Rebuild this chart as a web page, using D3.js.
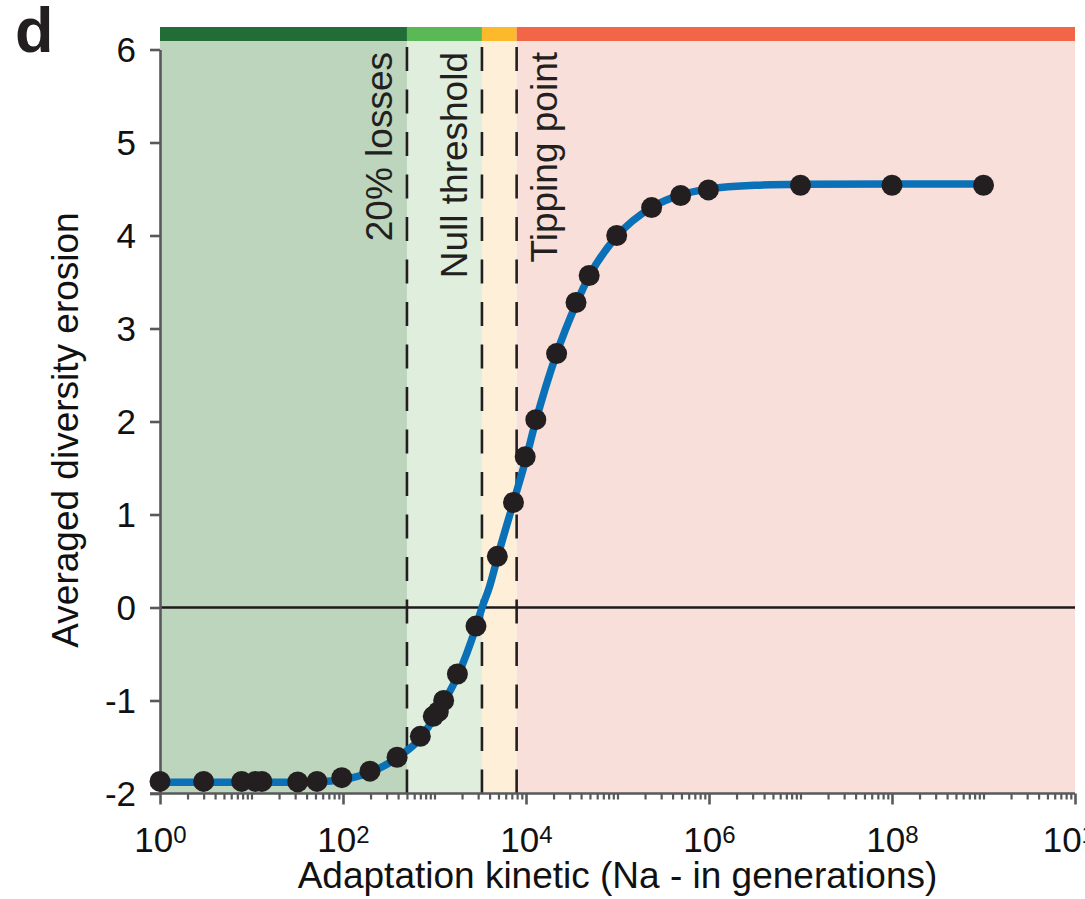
<!DOCTYPE html>
<html>
<head>
<meta charset="utf-8">
<script src="https://cdn.jsdelivr.net/npm/d3@7"></script>
<style>
  html, body { margin: 0; padding: 0; background: #ffffff; }
  svg { display: block; font-family: "Liberation Sans", Arial, Helvetica, sans-serif; }
</style>
</head>
<body>
<svg id="chart" width="1085" height="899"></svg>
<script>
// Simulated points: adaptation kinetic (Na, generations) vs averaged diversity erosion
const naValues = [1, 3, 7.8, 11, 13, 32, 52, 97, 197, 390, 700, 970, 1100, 1260, 1780,
  2840, 4860, 7300, 9800, 12800, 21600, 35200, 49000, 98000, 236000, 490000, 985000,
  1e7, 1e8, 1e9];
const erosionValues = [-1.87, -1.87, -1.87, -1.87, -1.87, -1.875, -1.87, -1.83, -1.76, -1.61,
  -1.385, -1.17, -1.12, -1.0, -0.715, -0.2, 0.55, 1.13, 1.62, 2.02, 2.73, 3.28, 3.57,
  4.0, 4.3, 4.43, 4.49, 4.54, 4.54, 4.54];

// Fitted sigmoid, sampled along Na
const fitNa = [1, 10, 31.6, 63, 100, 200, 400, 708, 1000, 1260, 1780, 2820, 3310, 3980,
  5010, 7240, 10000, 12600, 21400, 35500, 50100, 100000, 234000, 500000, 1000000,
  3160000, 1e7, 1e8, 1e9];
const fitErosion = [-1.88, -1.88, -1.88, -1.87, -1.85, -1.77, -1.61, -1.40, -1.18, -1.02,
  -0.74, -0.22, 0.0, 0.22, 0.58, 1.12, 1.6, 1.98, 2.72, 3.27, 3.58, 4.0, 4.3, 4.44, 4.5,
  4.54, 4.55, 4.555, 4.555];

// Regime boundaries on Na and their labels
const thresholds = [500, 3300, 7900];
const thresholdLabels = ["20% losses", "Null threshold", "Tipping point"];
const labelSides = ["left", "left", "right"];

// Regime colours: shaded background and top strip
const zoneFills = ["#bcd5bc", "#dfeedd", "#fef0d8", "#f9dfd9"];
const stripFills = ["#216d38", "#5bb955", "#fbb92b", "#f26647"];

const yTicks = [-2, -1, 0, 1, 2, 3, 4, 5, 6];
const xTickExponents = [0, 2, 4, 6, 8, 10];

const xDomain = [1, 1e10];
const yDomain = [-2, 6];

const svg = d3.select("#chart");

const plot = { left: 160, right: 1075, top: 49.5, bottom: 793.5 };
const shadeTop = 41;
const stripTop = 27;

const x = d3.scaleLog().domain(xDomain).range([plot.left, plot.right]);
const y = d3.scaleLinear().domain(yDomain).range([plot.bottom, plot.top]);

// Regime zones
const bounds = [xDomain[0], ...thresholds, xDomain[1]];
const zones = d3.range(bounds.length - 1).map(i => ({ x0: bounds[i], x1: bounds[i + 1], i }));

svg.append("g").selectAll("rect").data(zones).join("rect")
  .attr("x", d => x(d.x0))
  .attr("width", d => x(d.x1) - x(d.x0))
  .attr("y", shadeTop)
  .attr("height", plot.bottom - shadeTop)
  .attr("fill", d => zoneFills[d.i]);

svg.append("g").selectAll("rect").data(zones).join("rect")
  .attr("x", d => x(d.x0))
  .attr("width", d => x(d.x1) - x(d.x0))
  .attr("y", stripTop)
  .attr("height", shadeTop - stripTop)
  .attr("fill", d => stripFills[d.i]);

// Zero line
svg.append("line")
  .attr("x1", plot.left).attr("x2", plot.right)
  .attr("y1", y(0)).attr("y2", y(0))
  .attr("stroke", "#1e1a1a").attr("stroke-width", 2.6);

// Threshold lines, drawn upward from the axis
svg.append("g").selectAll("line").data(thresholds).join("line")
  .attr("x1", d => x(d)).attr("x2", d => x(d))
  .attr("y1", plot.bottom).attr("y2", shadeTop)
  .attr("stroke", "#231f20").attr("stroke-width", 2.6)
  .attr("stroke-dasharray", "24,18.5");

svg.append("g").selectAll("text").data(thresholds).join("text")
  .attr("transform", (d, i) => {
    const bx = labelSides[i] === "left" ? x(d) - 14.5 : x(d) + 40;
    return `translate(${bx},52) rotate(-90)`;
  })
  .attr("text-anchor", "end")
  .attr("font-size", 37)
  .attr("fill", "#231f20")
  .text((d, i) => thresholdLabels[i]);

// Axes
const axisColor = "#58595b";

const yAxis = svg.append("g")
  .attr("transform", `translate(${plot.left},0)`)
  .call(d3.axisLeft(y).tickValues(yTicks).tickSize(10).tickSizeOuter(0).tickPadding(14)
    .tickFormat(d => String(d)));
yAxis.select(".domain").attr("stroke", axisColor).attr("stroke-width", 2.6);
yAxis.selectAll(".tick line").attr("stroke", axisColor).attr("stroke-width", 2.6);
yAxis.selectAll(".tick text")
  .attr("font-size", 35).attr("fill", "#111").attr("font-family", null)
  .attr("dy", "0.35em");

// Minor x ticks (every 1..9 × 10^k that is not a labelled decade)
const minorTicks = [];
for (let k = 0; k < 10; k++) {
  for (let m = 1; m <= 9; m++) {
    if (m === 1 && xTickExponents.includes(k)) continue;
    minorTicks.push(m * Math.pow(10, k));
  }
}

const xMinor = svg.append("g")
  .attr("transform", `translate(0,${plot.bottom})`)
  .call(d3.axisBottom(x).tickValues(minorTicks).tickSize(6).tickSizeOuter(0).tickFormat(""));
xMinor.select(".domain").remove();
xMinor.selectAll(".tick line").attr("stroke", axisColor).attr("stroke-width", 2.2);

const xMajor = svg.append("g")
  .attr("transform", `translate(0,${plot.bottom})`)
  .call(d3.axisBottom(x).tickValues(xTickExponents.map(e => Math.pow(10, e)))
    .tickSize(11).tickSizeOuter(0).tickPadding(0).tickFormat(""));
xMajor.select(".domain")
  .attr("d", `M${plot.left - 10},0H${plot.right}`)
  .attr("stroke", axisColor).attr("stroke-width", 2.6);
xMajor.selectAll(".tick line").attr("stroke", axisColor).attr("stroke-width", 2.6);
xMajor.selectAll(".tick").each(function (d, i) {
  const t = d3.select(this).append("text")
    .attr("y", 58).attr("text-anchor", "middle")
    .attr("font-size", 35).attr("fill", "#111");
  t.append("tspan").text("10");
  t.append("tspan").attr("font-size", 24).attr("dy", -9).text(xTickExponents[i]);
});

// Axis titles
svg.append("text")
  .attr("x", (plot.left + plot.right) / 2).attr("y", 888)
  .attr("text-anchor", "middle").attr("font-size", 37).attr("fill", "#111")
  .text("Adaptation kinetic (Na - in generations)");

svg.append("text")
  .attr("transform", "translate(78,430) rotate(-90)")
  .attr("text-anchor", "middle").attr("font-size", 37).attr("fill", "#111")
  .text("Averaged diversity erosion");

// Panel letter
svg.append("text")
  .attr("x", 15).attr("y", 52)
  .attr("font-size", 63).attr("font-weight", "bold").attr("fill", "#231f20")
  .text("d");

// Fitted curve
const fit = fitNa.map((n, i) => ({ n, v: fitErosion[i] }));
svg.append("path")
  .datum(fit)
  .attr("fill", "none")
  .attr("stroke", "#0a71b9")
  .attr("stroke-width", 7.5)
  .attr("stroke-linecap", "round")
  .attr("d", d3.line().x(d => x(d.n)).y(d => y(d.v)).curve(d3.curveMonotoneX));

// Simulation points
const pts = naValues.map((n, i) => ({ n, v: erosionValues[i] }));
svg.append("g").selectAll("circle").data(pts).join("circle")
  .attr("cx", d => x(d.n))
  .attr("cy", d => y(d.v))
  .attr("r", 10.5)
  .attr("fill", "#231f20");
</script>
</body>
</html>
